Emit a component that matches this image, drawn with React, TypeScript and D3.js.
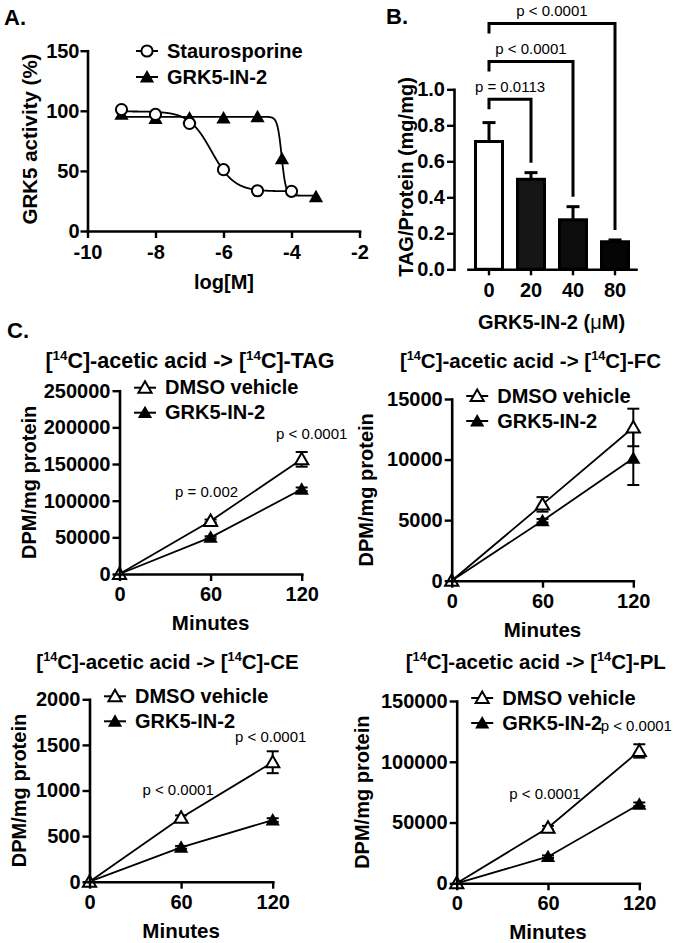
import React, { useEffect, useRef } from "react";
import * as d3 from "d3";

const W = 675;
const H = 943;
const FONT = "'Liberation Sans', Arial, Helvetica, sans-serif";

// A. GRK5 kinase activity vs inhibitor concentration
const stauroLogM = [-9, -8, -7, -6, -5, -4];
const stauroActivity = [101, 97, 89.5, 51, 33.5, 33];
const grkLogM = [-9, -8, -7, -6, -5, -4.28, -3.28];
const grkActivity = [97, 93.5, 94, 94, 95, 60, 28.5];
// four-parameter logistic fits: top, bottom, logIC50, hill slope
const stauroFit = [99.5, 33, -6.35, 1.3];
const grkFit = [95, 29.5, -4.29, 7];
const activityTicks = [0, 50, 100, 150];
const logMTicks = [-10, -8, -6, -4, -2];

// B. TAG content by dose
const doses = ["0", "20", "40", "80"];
const tagMean = [0.71, 0.5, 0.275, 0.153];
const tagSem = [0.105, 0.037, 0.073, 0.01];
const tagTicks = [0, 0.2, 0.4, 0.6, 0.8, 1.0];
const comparedDoses = ["20", "40", "80"];
const comparisonP = ["p = 0.0113", "p < 0.0001", "p < 0.0001"];

// C. [14C]-acetate incorporation time courses
const minutes = [0, 60, 120];
const minuteTicks = [0, 60, 120];

const tagDmso = [0, 72300, 156400];
const tagDmsoSem = [0, 2000, 10000];
const tagGrk = [0, 50000, 115500];
const tagGrkSem = [0, 1500, 2500];
const tagP = ["", "p = 0.002", "p < 0.0001"];
const tagYTicks = [0, 50000, 100000, 150000, 200000, 250000];

const fcDmso = [0, 6300, 12650];
const fcDmsoSem = [0, 600, 1550];
const fcGrk = [0, 4950, 10100];
const fcGrkSem = [0, 150, 2200];
const fcP = ["", "", ""];
const fcYTicks = [0, 5000, 10000, 15000];

const ceDmso = [0, 702, 1310];
const ceDmsoSem = [0, 25, 120];
const ceGrk = [0, 377, 676];
const ceGrkSem = [0, 15, 20];
const ceP = ["", "p < 0.0001", "p < 0.0001"];
const ceYTicks = [0, 500, 1000, 1500, 2000];

const plDmso = [0, 45750, 108900];
const plDmsoSem = [0, 1500, 5500];
const plGrk = [0, 21900, 65000];
const plGrkSem = [0, 1000, 1500];
const plP = ["", "p < 0.0001", "p < 0.0001"];
const plYTicks = [0, 50000, 100000, 150000];

const logistic = (x: number, p: number[]) =>
  p[1] + (p[0] - p[1]) / (1 + Math.pow(10, (x - p[2]) * p[3]));

function Axis({ axis, transform, size = 20 }: { axis: any; transform: string; size?: number }) {
  const ref = useRef<SVGGElement>(null);
  useEffect(() => {
    const g = d3.select(ref.current as SVGGElement);
    g.call(axis);
    g.attr("font-family", FONT).attr("font-size", size).attr("font-weight", "bold");
    g.select(".domain").attr("stroke", "#000").attr("stroke-width", 2.6).attr("stroke-linecap", "square");
    g.selectAll(".tick line").attr("stroke", "#000").attr("stroke-width", 2.4);
    g.selectAll(".tick text").attr("fill", "#000");
  });
  return <g ref={ref} transform={transform} />;
}

const triPath = "M0,-6.5L6.6,5L-6.6,5Z";

function Marker({ kind, x, y }: { kind: string; x: number; y: number }) {
  if (kind === "circle")
    return <circle cx={x} cy={y} r={5.6} fill="#fff" stroke="#000" strokeWidth={2} />;
  if (kind === "open")
    return (
      <path d={triPath} transform={`translate(${x},${y})`} fill="#fff" stroke="#000" strokeWidth={2} />
    );
  return <path d={triPath} transform={`translate(${x},${y}) scale(1.08)`} fill="#000" />;
}

function LegendRow({ kind, x, y, label }: { kind: string; x: number; y: number; label: string }) {
  return (
    <g>
      <line x1={x - 11} x2={x + 11} y1={y} y2={y} stroke="#000" strokeWidth={2} />
      <Marker kind={kind} x={x} y={y} />
      <text x={x + 20} y={y + 6.5} fontSize={20} fontWeight="bold">
        {label}
      </text>
    </g>
  );
}

function PanelA() {
  const x = d3.scaleLinear().domain([-10, -2]).range([87.5, 359.5]);
  const y = d3.scaleLinear().domain([0, 150]).range([231, 50.7]);
  const line = d3
    .line<number[]>()
    .x((d) => x(d[0]))
    .y((d) => y(d[1]));
  const curve = (from: number, to: number, p: number[]) =>
    d3.range(from, to + 0.001, 0.01).map((v) => [v, logistic(v, p)]);

  return (
    <g>
      <text x={4} y={25} fontSize={22} fontWeight="bold">A.</text>
      <path d={line(curve(-9, -4, stauroFit)) || ""} fill="none" stroke="#000" strokeWidth={1.8} />
      <path d={line(curve(-9, -3.28, grkFit)) || ""} fill="none" stroke="#000" strokeWidth={1.8} />
      {grkLogM.map((v, i) => (
        <Marker key={"g" + i} kind="filled" x={x(v)} y={y(grkActivity[i])} />
      ))}
      {stauroLogM.map((v, i) => (
        <Marker key={"s" + i} kind="circle" x={x(v)} y={y(stauroActivity[i])} />
      ))}
      <Axis
        transform="translate(0,231)"
        axis={d3.axisBottom(x).tickValues(logMTicks).tickSize(7).tickPadding(7).tickSizeOuter(0).tickFormat((d: any) => String(d))}
      />
      <Axis
        transform="translate(87.5,0)"
        axis={d3.axisLeft(y).tickValues(activityTicks).tickSize(7).tickPadding(1).tickSizeOuter(0)}
      />
      <text x={224} y={289} textAnchor="middle" fontSize={20} fontWeight="bold">log[M]</text>
      <text transform="translate(37,139) rotate(-90)" textAnchor="middle" fontSize={20.5} fontWeight="bold">
        GRK5 activity (%)
      </text>
      <LegendRow kind="circle" x={147} y={51} label="Staurosporine" />
      <LegendRow kind="filled" x={147} y={77} label="GRK5-IN-2" />
    </g>
  );
}

function PanelB() {
  const x = d3.scaleBand().domain(doses).range([468, 636]).paddingInner(0.357).paddingOuter(0.1785);
  const y = d3.scaleLinear().domain([0, 1]).range([269.3, 89.3]);
  const fills = ["#ffffff", "#161616", "#0c0c0c", "#050505"];
  const levels = [0.945, 1.155, 1.365];
  const cx = (d: string) => (x(d) as number) + x.bandwidth() / 2;

  return (
    <g>
      <text x={386} y={24} fontSize={22} fontWeight="bold">B.</text>
      {doses.map((d, i) => {
        const top = y(tagMean[i] + tagSem[i]);
        return (
          <g key={d}>
            <line x1={cx(d)} x2={cx(d)} y1={y(tagMean[i])} y2={top} stroke="#000" strokeWidth={3} />
            <line x1={cx(d) - 6.5} x2={cx(d) + 6.5} y1={top} y2={top} stroke="#000" strokeWidth={3} />
            <rect
              x={x(d)}
              y={y(tagMean[i])}
              width={x.bandwidth()}
              height={y(0) - y(tagMean[i])}
              fill={fills[i]}
              stroke="#000"
              strokeWidth={3}
            />
          </g>
        );
      })}
      {comparedDoses.map((d, i) => {
        const j = doses.indexOf(d);
        const x1 = cx(doses[0]);
        const x2 = cx(d);
        const yb = y(levels[i]);
        const end = y(tagMean[j] + tagSem[j]) - 10;
        return (
          <g key={"c" + d}>
            <path
              d={`M${x1},${yb + 10}V${yb}H${x2}V${end}`}
              fill="none"
              stroke="#000"
              strokeWidth={3}
            />
            <text x={(x1 + x2) / 2} y={yb - 7.5} textAnchor="middle" fontSize={15}>
              {comparisonP[i]}
            </text>
          </g>
        );
      })}
      <Axis
        transform="translate(0,269.3)"
        axis={d3.axisBottom(x).tickSize(6).tickPadding(8).tickSizeOuter(0)}
      />
      <Axis
        transform="translate(454,0)"
        axis={d3.axisLeft(y).tickValues(tagTicks).tickSize(7).tickPadding(2).tickSizeOuter(0).tickFormat(d3.format(".1f"))}
      />
      <text x={551.5} y={329} textAnchor="middle" fontSize={20} fontWeight="bold">
        GRK5-IN-2 (<tspan fontWeight="normal">μ</tspan>M)
      </text>
      <text transform="translate(413,177) rotate(-90)" textAnchor="middle" fontSize={20} fontWeight="bold">
        TAG/Protein (mg/mg)
      </text>
    </g>
  );
}

type TimeCourse = {
  product: string;
  titleX: number;
  titleY: number;
  titleSize: number;
  labelX: number;
  x0: number;
  x1: number;
  yTop: number;
  yBottom: number;
  yTicks: number[];
  dmso: number[];
  dmsoSem: number[];
  grk: number[];
  grkSem: number[];
  pLabels: string[];
  pOffsets: number[][];
};

function TimeCoursePanel({ c }: { c: TimeCourse }) {
  const x = d3.scaleLinear().domain([0, 120]).range([c.x0, c.x1]);
  const y = d3
    .scaleLinear()
    .domain([0, c.yTicks[c.yTicks.length - 1]])
    .range([c.yBottom, c.yTop]);
  const line = d3
    .line<number>()
    .x((_, i) => x(minutes[i]))
    .y((d) => y(d));
  const errBars = (vals: number[], sems: number[], key: string) =>
    vals.map((v, i) =>
      sems[i] > 0 ? (
        <g key={key + i}>
          <line x1={x(minutes[i])} x2={x(minutes[i])} y1={y(v - sems[i])} y2={y(v + sems[i])} stroke="#000" strokeWidth={2} />
          <line x1={x(minutes[i]) - 6} x2={x(minutes[i]) + 6} y1={y(v + sems[i])} y2={y(v + sems[i])} stroke="#000" strokeWidth={2} />
          <line x1={x(minutes[i]) - 6} x2={x(minutes[i]) + 6} y1={y(v - sems[i])} y2={y(v - sems[i])} stroke="#000" strokeWidth={2} />
        </g>
      ) : null
    );
  const lx = c.x0 + 25.5;
  const ly = c.yTop - 3;

  return (
    <g>
      <text x={c.titleX} y={c.titleY} textAnchor="middle" fontSize={c.titleSize} fontWeight="bold">
        [<tspan fontSize={c.titleSize * 0.62} dy={-8}>14</tspan>
        <tspan dy={8}>C]-acetic acid -&gt; [</tspan>
        <tspan fontSize={c.titleSize * 0.62} dy={-8}>14</tspan>
        <tspan dy={8}>C]-{c.product}</tspan>
      </text>
      <path d={line(c.dmso) || ""} fill="none" stroke="#000" strokeWidth={1.8} />
      <path d={line(c.grk) || ""} fill="none" stroke="#000" strokeWidth={1.8} />
      {errBars(c.grk, c.grkSem, "ge")}
      {errBars(c.dmso, c.dmsoSem, "de")}
      {c.grk.map((v, i) => (
        <Marker key={"g" + i} kind="filled" x={x(minutes[i])} y={y(v)} />
      ))}
      {c.dmso.map((v, i) => (
        <Marker key={"d" + i} kind="open" x={x(minutes[i])} y={y(v)} />
      ))}
      {c.pLabels.map((p, i) =>
        p ? (
          <text
            key={"p" + i}
            x={x(minutes[i]) + c.pOffsets[i][0]}
            y={y(c.dmso[i]) + c.pOffsets[i][1]}
            textAnchor="middle"
            fontSize={15}
          >
            {p}
          </text>
        ) : null
      )}
      <Axis
        transform={`translate(0,${c.yBottom})`}
        axis={d3.axisBottom(x).tickValues(minuteTicks).tickSize(7).tickPadding(6).tickSizeOuter(0)}
      />
      <Axis
        transform={`translate(${c.x0},0)`}
        axis={d3.axisLeft(y).tickValues(c.yTicks).tickSize(7).tickPadding(2).tickSizeOuter(0).tickFormat((d: any) => String(d))}
      />
      <text x={(c.x0 + c.x1) / 2} y={c.yBottom + 56} textAnchor="middle" fontSize={20.5} fontWeight="bold">
        Minutes
      </text>
      <text
        transform={`translate(${c.labelX},${(c.yTop + c.yBottom) / 2}) rotate(-90)`}
        textAnchor="middle"
        fontSize={20}
        fontWeight="bold"
      >
        DPM/mg protein
      </text>
      <LegendRow kind="open" x={lx} y={ly} label="DMSO vehicle" />
      <LegendRow kind="filled" x={lx} y={ly + 25} label="GRK5-IN-2" />
    </g>
  );
}

const panels: TimeCourse[] = [
  {
    product: "TAG", titleX: 190, titleY: 368, titleSize: 21.5, labelX: 36,
    x0: 119.5, x1: 301.7, yTop: 390.7, yBottom: 574, yTicks: tagYTicks,
    dmso: tagDmso, dmsoSem: tagDmsoSem, grk: tagGrk, grkSem: tagGrkSem,
    pLabels: tagP, pOffsets: [[0, 0], [-4, -24], [10, -20]],
  },
  {
    product: "FC", titleX: 530.5, titleY: 368, titleSize: 20.5, labelX: 373,
    x0: 451.7, x1: 633.3, yTop: 399, yBottom: 580.7, yTicks: fcYTicks,
    dmso: fcDmso, dmsoSem: fcDmsoSem, grk: fcGrk, grkSem: fcGrkSem,
    pLabels: fcP, pOffsets: [[0, 0], [0, 0], [0, 0]],
  },
  {
    product: "CE", titleX: 167.5, titleY: 669, titleSize: 20.5, labelX: 26,
    x0: 89.5, x1: 272.7, yTop: 699.3, yBottom: 881.7, yTicks: ceYTicks,
    dmso: ceDmso, dmsoSem: ceDmsoSem, grk: ceGrk, grkSem: ceGrkSem,
    pLabels: ceP, pOffsets: [[0, 0], [-3, -23], [-2, -20]],
  },
  {
    product: "PL", titleX: 535.8, titleY: 669, titleSize: 20.5, labelX: 369,
    x0: 456.7, x1: 639.3, yTop: 701, yBottom: 883.3, yTicks: plYTicks,
    dmso: plDmso, dmsoSem: plDmsoSem, grk: plGrk, grkSem: plGrkSem,
    pLabels: plP, pOffsets: [[0, 0], [-3, -29], [-3, -20]],
  },
];

export default function App() {
  return (
    <svg
      width={W}
      height={H}
      viewBox={`0 0 ${W} ${H}`}
      style={{ position: "absolute", left: 0, top: 0, background: "#fff" }}
      fontFamily={FONT}
    >
      <rect width={W} height={H} fill="#fff" />
      <PanelA />
      <PanelB />
      <text x={7} y={338} fontSize={22} fontWeight="bold">C.</text>
      {panels.map((c) => (
        <TimeCoursePanel key={c.product} c={c} />
      ))}
    </svg>
  );
}
